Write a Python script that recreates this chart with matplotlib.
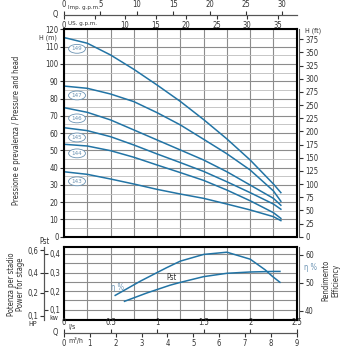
import numpy as np
import matplotlib.pyplot as plt
from matplotlib.ticker import FuncFormatter

plt.rcParams['font.family'] = ['DejaVu Sans']
plt.rcParams['font.stretch'] = 'condensed'
plt.rcParams['font.size'] = 5.5

# flow points (l/s)
q = [0, 0.25, 0.5, 0.75, 1.0, 1.25, 1.5, 1.75, 2.0, 2.25, 2.33]
h149 = [115.3, 112.0, 105.2, 96.9, 87.8, 78.3, 67.8, 56.6, 44.4, 30.5, 25.5]
h147 = [87.2, 85.9, 82.6, 78.2, 71.8, 64.7, 56.4, 48.0, 38.6, 26.5, 20.5]
h146 = [74.7, 72.0, 67.6, 61.8, 56.0, 50.2, 44.4, 37.6, 29.9, 22.2, 18.2]
h145 = [63.1, 61.4, 57.9, 53.1, 47.9, 42.9, 37.8, 31.8, 25.5, 18.9, 15.9]
h144 = [53.5, 52.5, 49.8, 46.0, 41.5, 37.1, 32.6, 27.0, 20.8, 13.9, 10.6]
h143 = [37.6, 36.1, 33.4, 30.5, 27.4, 24.7, 22.2, 18.9, 15.5, 11.6, 9.3]
models = ['149', '147', '146', '145', '144', '143']
heads = [h149, h147, h146, h145, h144, h143]

# efficiency and power per stage
q_eta = [0.55, 0.82, 1.1, 1.25, 1.5, 1.75, 2.0, 2.16, 2.24, 2.32]
eta = [45.5, 50.6, 55.4, 57.8, 60.2, 61.0, 58.5, 54.7, 52.3, 50.2]
q_pst = [0.65, 0.89, 1.14, 1.25, 1.5, 1.75, 2.0, 2.25, 2.32]
pst = [0.145, 0.190, 0.232, 0.247, 0.278, 0.296, 0.303, 0.306, 0.306]

# axis ticks
h_ticks = list(range(0, 121, 10))
ft_ticks = list(range(0, 376, 25))
kw_ticks = [0.1, 0.2, 0.3, 0.4]
hp_labels = ['0,1', '0,2', '0,4', '0,6']
hp_pos_kw = [0.066, 0.19, 0.30, 0.42]   # where the HP marks sit on the kw scale
eta_ticks = [40, 50, 60]
ls_ticks = [0, 0.5, 1, 1.5, 2, 2.5]
m3h_ticks = list(range(0, 10))
imp_ticks = [0, 5, 10, 15, 20, 25, 30]
us_ticks = [0, 5, 10, 15, 20, 25, 30, 35]

# gpm scales as printed on the sheet (slightly stretched)
IMP_PER_LS = 12.79
US_PER_LS = 15.24

BLUE = '#2274a5'
LBLUE = '#6b93b3'
TXT = '#333333'
GRID_D = '#8c8c8c'
GRID_L = '#bdbdbd'
FS = 5.5

W = 350.0
def fx(px):
    return px / W
def fy(py):
    return 1 - py / W

L, R = 64, 296.7
fig = plt.figure(figsize=(3.5, 3.5), dpi=100)

# ---- head chart
ax = fig.add_axes([fx(L), fy(236.7), fx(R - L), (236.7 - 29.4) / W])
ax.set_xlim(0, 2.5)
ax.set_ylim(0, 120)
ax.set_xticks(np.arange(0, 2.51, 0.25))
ax.set_yticks(h_ticks)
ax.set_yticks(np.arange(5, 120, 10), minor=True)
ax.grid(True, which='major', color=GRID_D, lw=0.8)
ax.grid(True, which='minor', axis='y', color=GRID_L, lw=0.6)
ax.tick_params(axis='x', length=0, labelbottom=False)
ax.tick_params(axis='y', which='minor', length=0)
ax.tick_params(axis='y', direction='out', length=3, pad=1, labelsize=FS, colors=TXT)
for s in ax.spines.values():
    s.set_linewidth(1.5)
for name, h in zip(models, heads):
    ax.plot(q, h, color=BLUE, lw=1.1)
    ax.text(0.14, np.interp(0.14, q, h) - 4.7, name, ha='center', va='center',
            fontsize=4.5, color=LBLUE,
            bbox=dict(boxstyle='ellipse,pad=0.1', fc='white', ec=LBLUE, lw=0.6))

axf = ax.twinx()
axf.set_ylim(0, 120 * 3.2808)
axf.set_yticks(ft_ticks)
for k in ['top', 'left', 'bottom']:
    axf.spines[k].set_visible(False)
axf.spines['right'].set_position(('outward', 2))
axf.spines['right'].set_linewidth(0.8)
axf.spines['right'].set_color('#555555')
axf.tick_params(axis='y', direction='out', length=3, pad=1, labelsize=FS, colors=TXT)

fig.text(fx(57), fy(37.5), 'H (m)', ha='right', va='center', color=TXT, fontsize=5)
fig.text(fx(305), fy(31), 'H (ft)', ha='left', va='center', color=TXT, fontsize=5)
fig.text(fx(17), fy(130), 'Pressione e prevalenza / Pressure and head',
         rotation=90, ha='center', va='center', color=TXT, fontsize=FS)

# ---- power / efficiency chart
KW_LO, KW_HI = 0.046, 0.436
ETA_LO, ETA_HI = 36.77, 62.76
ax2 = fig.add_axes([fx(L), fy(319.7), fx(R - L), (319.7 - 247.3) / W])
ax2.set_xlim(0, 2.5)
ax2.set_ylim(KW_LO, KW_HI)
ax2.set_xticks(np.arange(0, 2.51, 0.25))
ax2.set_yticks(np.arange(0.05, 0.44, 0.05))
ax2.grid(True, color=GRID_D, lw=0.8)
ax2.tick_params(length=0, labelbottom=False, labelleft=False)
for s in ax2.spines.values():
    s.set_linewidth(1.5)
ax2.plot(q_pst, pst, color=BLUE, lw=1.1)
ax2.text(1.15, 0.276, 'Pst', ha='center', va='center', color=TXT, fontsize=FS)

axe = ax2.twinx()
axe.set_ylim(ETA_LO, ETA_HI)
axe.set_yticks(eta_ticks)
for k in ['top', 'left', 'bottom']:
    axe.spines[k].set_visible(False)
axe.spines['right'].set_position(('outward', 2))
axe.spines['right'].set_linewidth(0.8)
axe.spines['right'].set_color('#555555')
axe.tick_params(axis='y', direction='out', length=3, pad=1, labelsize=FS, colors=TXT)
axe.plot(q_eta, eta, color=BLUE, lw=1.1)
axe.text(0.58, 48.5, 'η %', ha='center', va='center', color=LBLUE, fontsize=FS)

comma = FuncFormatter(lambda v, p: f'{v:.1f}'.replace('.', ','))
off = -20 / (R - L)

axk = ax2.twinx()
axk.set_ylim(KW_LO, KW_HI)
axk.set_yticks(kw_ticks)
axk.yaxis.set_major_formatter(comma)
for k in ['top', 'left', 'bottom']:
    axk.spines[k].set_visible(False)
axk.spines['right'].set_position(('axes', off))
axk.spines['right'].set_linewidth(0.8)
axk.spines['right'].set_color('#555555')
axk.tick_params(axis='y', direction='out', length=3, pad=1, labelsize=FS, colors=TXT)

axh = ax2.twinx()
axh.set_ylim(KW_LO, KW_HI)
axh.yaxis.set_ticks_position('left')
axh.set_yticks(hp_pos_kw)
axh.set_yticklabels(hp_labels)
for k in ['top', 'right', 'bottom']:
    axh.spines[k].set_visible(False)
axh.spines['left'].set_visible(True)
axh.spines['left'].set_position(('axes', off))
axh.spines['left'].set_linewidth(0.8)
axh.spines['left'].set_color('#555555')
axh.tick_params(axis='y', direction='out', length=3, pad=1, labelsize=FS, colors=TXT)

fig.text(fx(44), fy(241), 'Pst', ha='center', va='center', color=TXT, fontsize=FS)
fig.text(fx(33), fy(324), 'HP', ha='center', va='center', color=TXT, fontsize=5)
fig.text(fx(54), fy(318.5), 'kw', ha='center', va='center', color=TXT, fontsize=5)
fig.text(fx(16), fy(284), 'Potenza per stadio\nPower for stage', rotation=90,
         ha='center', va='center', multialignment='center', color=TXT, fontsize=FS,
         linespacing=1.1)
fig.text(fx(331), fy(280), 'Rendimento\nEfficiency', rotation=90,
         ha='center', va='center', multialignment='center', color=TXT, fontsize=FS,
         linespacing=1.1)
fig.text(fx(310), fy(268), 'η %', ha='center', va='center', color=LBLUE, fontsize=FS)


def flow_axis(py, top_ticks, top_labels, top_max, bot_func, bot_ticks, bot_labels):
    a = fig.add_axes([fx(L), fy(py), fx(R - L), 0.0001])
    a.patch.set_visible(False)
    a.set_xlim(0, top_max)
    a.set_yticks([])
    for k in ['top', 'left', 'right']:
        a.spines[k].set_visible(False)
    a.spines['bottom'].set_linewidth(0.8)
    a.spines['bottom'].set_color('#555555')
    a.xaxis.tick_top()
    a.set_xticks(top_ticks)
    a.set_xticklabels(top_labels)
    a.tick_params(axis='x', direction='out', length=3, pad=1, labelsize=FS, colors=TXT)
    sec = a.secondary_xaxis('bottom', functions=bot_func)
    sec.set_xticks(bot_ticks)
    sec.set_xticklabels(bot_labels)
    sec.tick_params(axis='x', direction='out', length=3, pad=1, labelsize=FS, colors=TXT)
    sec.spines['bottom'].set_linewidth(0.8)
    sec.spines['bottom'].set_color('#555555')
    fig.text(fx(58), fy(py), 'Q', ha='right', va='center', color=TXT, fontsize=FS)
    return a


# top: gallons per minute
flow_axis(15, imp_ticks, [str(v) for v in imp_ticks], 2.5 * IMP_PER_LS,
          (lambda x: x / IMP_PER_LS * US_PER_LS, lambda x: x / US_PER_LS * IMP_PER_LS),
          us_ticks, ['' if v == 5 else str(v) for v in us_ticks])
fig.text(fx(67.5), fy(7.5), 'Imp. g.p.m.', ha='left', va='center', color=TXT, fontsize=4.5)
fig.text(fx(67.5), fy(23), 'US. g.p.m.', ha='left', va='center', color=TXT, fontsize=4.5)

# bottom: l/s and m3/h
flow_axis(333, ls_ticks, ['0', '0.5', '1', '1.5', '2', '2.5'], 2.5,
          (lambda x: x * 3.6, lambda x: x / 3.6),
          m3h_ticks, [str(v) for v in m3h_ticks])
fig.text(fx(68), fy(326.5), 'l/s', ha='left', va='center', color=TXT, fontsize=5)
fig.text(fx(68), fy(340), 'm³/h', ha='left', va='center', color=TXT, fontsize=5)

fig.savefig('out.png', dpi=100)
